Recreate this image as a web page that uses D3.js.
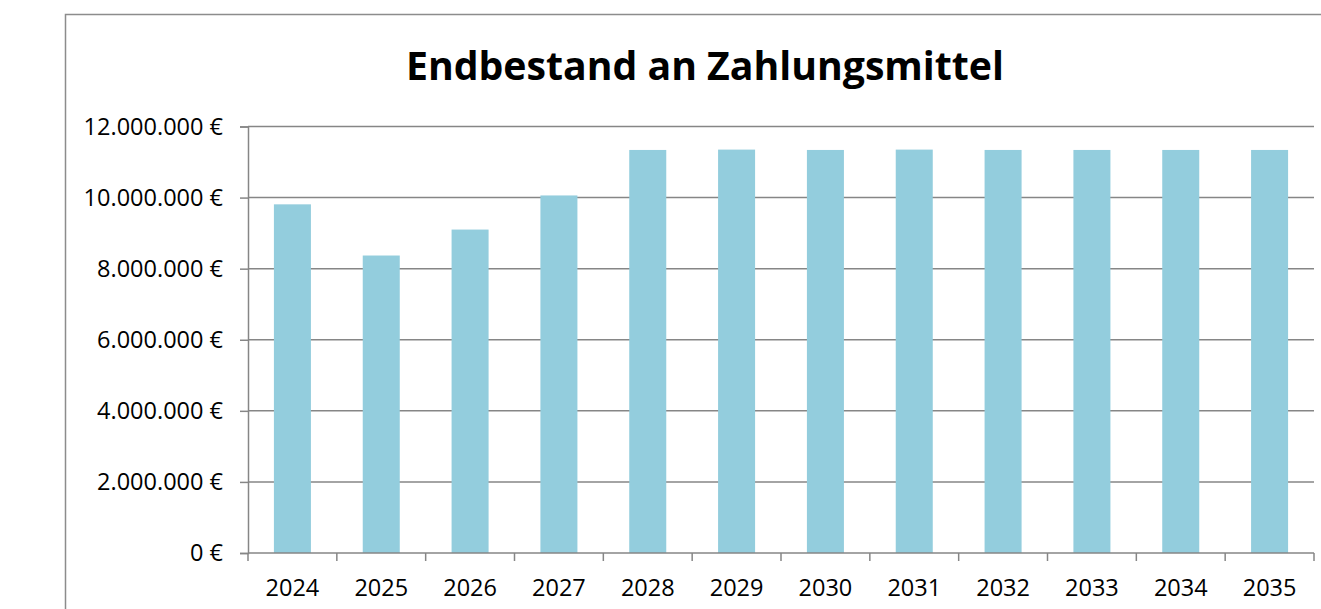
<!DOCTYPE html>
<html>
<head>
<meta charset="utf-8">
<script src="https://cdn.jsdelivr.net/npm/d3@7"></script>
<style>
html,body{margin:0;padding:0;background:#fff;overflow:hidden;}
svg{display:block;}
</style>
</head>
<body>
<svg id="chart" width="1321" height="609"></svg>
<script>
const title = "Endbestand an Zahlungsmittel";
const years = ["2024","2025","2026","2027","2028","2029","2030","2031","2032","2033","2034","2035"];
const values = [9810000, 8370000, 9100000, 10060000, 11340000, 11350000, 11340000, 11350000, 11340000, 11340000, 11340000, 11340000];
const yTicks = [0, 2000000, 4000000, 6000000, 8000000, 10000000, 12000000];

const svg = d3.select("#chart");
const m = {left: 248, right: 1314, top: 126.5, bottom: 553};

// outer frame
svg.append("rect").attr("x", 65.5).attr("y", 14.5).attr("width", 1300).attr("height", 700)
  .attr("fill", "none").attr("stroke", "#8c8c8c").attr("stroke-width", 1.5);

const x = d3.scaleBand().domain(years).range([m.left, m.right]).paddingInner(1.4/2.4).paddingOuter(0.7/2.4);
const xb = d3.scaleBand().domain(years).range([m.left, m.right]);
const y = d3.scaleLinear().domain([0, 12000000]).range([m.bottom, m.top]);

const fmt = v => d3.format(",.0f")(v).replace(/,/g, ".") + " €";
const tickFont = "'Open Sans', sans-serif";

// gridlines
svg.append("g").selectAll("line").data(yTicks.filter(d => d > 0)).join("line")
  .attr("x1", m.left).attr("x2", m.right)
  .attr("y1", d => y(d)).attr("y2", d => y(d))
  .attr("stroke", "#868686").attr("stroke-width", 1.5);

// bars
svg.append("g").selectAll("rect").data(values).join("rect")
  .attr("x", (d, i) => x(years[i]))
  .attr("width", x.bandwidth())
  .attr("y", d => y(d))
  .attr("height", d => y(0) - y(d))
  .attr("fill", "#93cddd");

// y axis
const yAxis = d3.axisLeft(y).tickValues(yTicks).tickFormat(fmt).tickSize(8).tickPadding(17);
const gy = svg.append("g").attr("transform", `translate(${m.left},0)`).call(yAxis);
gy.select(".domain").attr("stroke", "#868686").attr("stroke-width", 1.5);
gy.selectAll(".tick line").attr("stroke", "#868686").attr("stroke-width", 1.5);
gy.selectAll("text").attr("font-family", tickFont).attr("font-size", "23.5px").attr("fill", "#000");

// x axis
svg.append("line").attr("x1", m.left).attr("x2", m.right).attr("y1", m.bottom).attr("y2", m.bottom)
  .attr("stroke", "#868686").attr("stroke-width", 1.5);
const bounds = years.map(d => xb(d)).concat([m.right]);
svg.append("g").selectAll("line").data(bounds).join("line")
  .attr("x1", d => d).attr("x2", d => d).attr("y1", m.bottom).attr("y2", m.bottom + 8)
  .attr("stroke", "#868686").attr("stroke-width", 1.5);
svg.append("g").selectAll("text").data(years).join("text")
  .attr("x", d => xb(d) + xb.bandwidth() / 2)
  .attr("y", 596)
  .attr("text-anchor", "middle")
  .attr("font-family", tickFont).attr("font-size", "23.5px").attr("fill", "#000")
  .text(d => d);

// title
svg.append("text").attr("x", 705).attr("y", 79.5).attr("text-anchor", "middle")
  .attr("font-family", "'Open Sans', sans-serif").attr("font-weight", "bold").attr("font-size", "40px")
  .attr("textLength", 598).attr("lengthAdjust", "spacingAndGlyphs")
  .attr("fill", "#000").text(title);
</script>
</body>
</html>
